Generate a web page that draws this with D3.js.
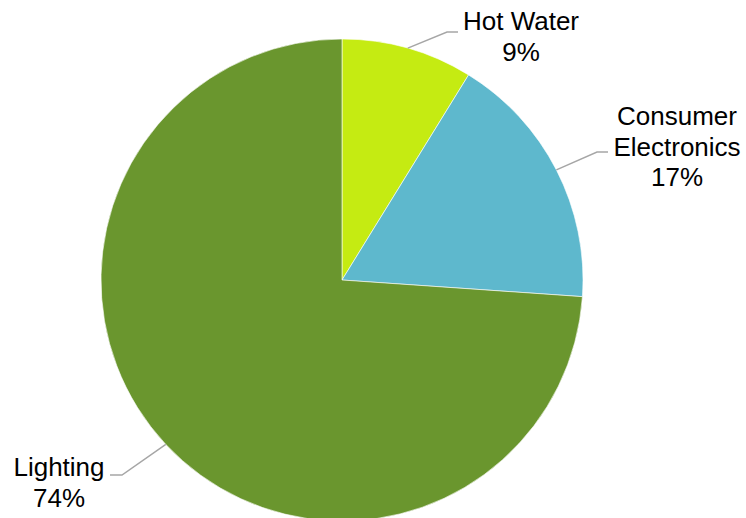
<!DOCTYPE html>
<html>
<head>
<meta charset="utf-8">
<script src="https://cdn.jsdelivr.net/npm/d3@7/dist/d3.min.js"></script>
<style>
  html, body { margin: 0; padding: 0; background: #fff; }
  svg { display: block; }
</style>
</head>
<body>
<svg id="chart" width="746" height="518"></svg>
<script>
// Data
const categories = ["Hot Water", "Consumer Electronics", "Lighting"];
const values = [8.8, 17.3, 73.9];
const percentLabels = ["9%", "17%", "74%"];

// Styling / layout (not data)
const colors = ["#C5EB12", "#5EB8CD", "#6A962E"];
const labelLines = [["Hot Water"], ["Consumer", "Electronics"], ["Lighting"]];
// label layout: elbow point, end of horizontal, text center x, first baseline
const labelLayout = [
  { elbow: [447, 32], end: [458, 32], tx: 521, ty: 30 },
  { elbow: [597, 152], end: [608, 152], tx: 677, ty: 125 },
  { elbow: [122, 475], end: [110, 475], tx: 59, ty: 476 }
];

const W = 746, H = 518;
const cx = 342, cy = 280, R = 241;
const fontSize = 26, lineH = 30.5;

const svg = d3.select("#chart");
const g = svg.append("g").attr("transform", `translate(${cx},${cy})`);

const pie = d3.pie().sort(null).value(d => d.value);
const data = categories.map((c, i) => ({ name: c, value: values[i], i }));
const arcs = pie(data);
const arc = d3.arc().innerRadius(0).outerRadius(R);

g.selectAll("path.slice")
  .data(arcs)
  .enter().append("path")
  .attr("class", "slice")
  .attr("d", arc)
  .attr("fill", d => colors[d.data.i])
  .attr("stroke", "#ffffff")
  .attr("stroke-width", 0.6);

// leader lines
arcs.forEach(d => {
  const mid = (d.startAngle + d.endAngle) / 2;
  const sx = cx + R * Math.sin(mid);
  const sy = cy - R * Math.cos(mid);
  const L = labelLayout[d.data.i];
  svg.append("polyline")
    .attr("points", `${sx},${sy} ${L.elbow[0]},${L.elbow[1]} ${L.end[0]},${L.end[1]}`)
    .attr("fill", "none")
    .attr("stroke", "#A6A6A6")
    .attr("stroke-width", 1.5);

  const lines = labelLines[d.data.i].concat([percentLabels[d.data.i]]);
  const t = svg.append("text")
    .attr("text-anchor", "middle")
    .attr("font-family", "Liberation Sans, Arial, sans-serif")
    .attr("font-size", fontSize)
    .attr("fill", "#000");
  lines.forEach((ln, k) => {
    t.append("tspan").attr("x", L.tx).attr("y", L.ty + k * lineH).text(ln);
  });
});
</script>
</body>
</html>
